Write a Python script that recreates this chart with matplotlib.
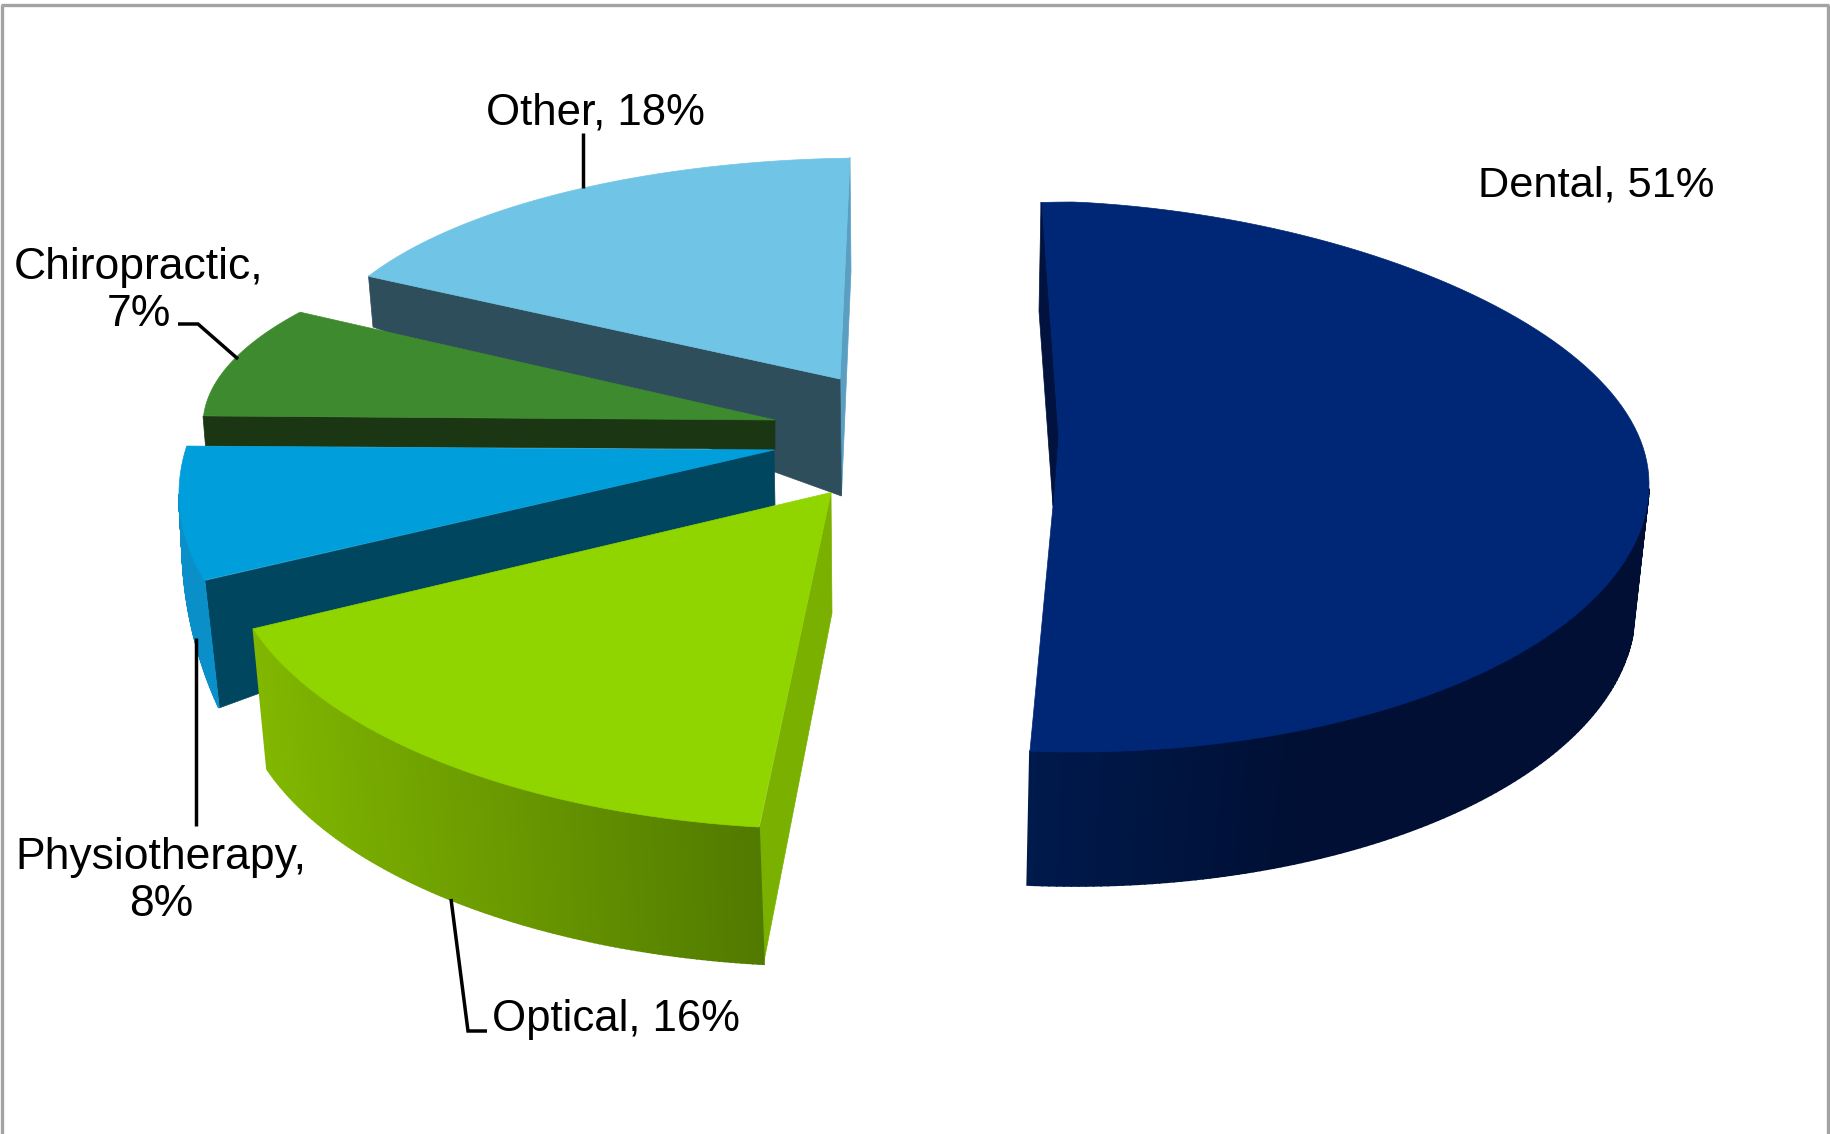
import numpy as np
import matplotlib
matplotlib.use("Agg")
import matplotlib.pyplot as plt
from matplotlib.patches import Polygon

plt.rcParams['font.family'] = ['Liberation Sans', 'DejaVu Sans']

# ---------- data ----------
categories = ["Dental", "Optical", "Physiotherapy", "Chiropractic", "Other"]
values = [51, 16, 8, 7, 18]

# ---------- layout / style (pixel space of the canvas) ----------
W, H = 1831, 1134
FRAME = "#a3a3a3"
# top ellipse, bottom ellipse: (cx, cy, rx, ry); t: ellipse parameter at the slice ends
GEOM = {
    "Dental": dict(apex=(1053, 506), top=(1075, 484, 574, 268), ry_back=282, back=14, t=(-3.4, 184.5),
                   bot=(1075, 610, 560, 276), wall_top=(91, 184.5), wall_bot=(95, 184.9),
                   face="#002776", grad=("#000f33", "#001a4d")),
    "Optical": dict(apex=(831, 492.5), top=(830, 544, 604, 285), back=0, t=(186.75, 252.7),
                    bot=(830, 681, 592, 285), wall_top=(186.75, 252.7), wall_bot=(186.4, 252),
                    face="#90d400", grad=("#517a00", "#82b800")),
    "Physiotherapy": dict(apex=(774, 450), top=(779, 494, 600, 300), back=0, t=(253.3, 279.2),
                          bot=(634, 540, 452, 424), wall_top=(253.3, 270), wall_bot=(246.7, 270),
                          face="#009edb", grad=("#0a8fc8", "#0a8fc8")),
    "Chiropractic": dict(apex=(775, 420), top=(823, 425, 620, 210), back=0, t=(272.5, 302.5),
                         bot=None, face="#3e8a2f"),
    "Other": dict(apex=(840, 379), top=(870, 371, 560, 213), back=0, t=(296.4, 357.95),
                  bot=None, face="#70c5e6"),
}
# flat side walls: (colour, zorder, corners); zorder 2 sits under the top face
SIDE = {
    "Other": [("#5a9fc2", 2, [(850, 157), (840, 379), (841.5, 496), (851, 271)]),
              ("#2e4e5c", 2, [(368.5, 276), (840, 379), (841.5, 496), (373, 327)])],
    "Chiropractic": [("#1a3612", 2, [(203, 416), (775, 420), (775, 449), (205.5, 446)])],
    "Physiotherapy": [("#00465f", 2, [(204, 581), (774, 450), (775, 505), (219, 708)])],
    "Optical": [("#7ab000", 2, [(831, 492.5), (832, 613), (763.5, 964), (759.5, 828)])],
    "Dental": [("#00123d", 2.5, [(1041, 202), (1039, 311), (1053, 506), (1058, 437)])],
}
LABELS = {
    "Dental": (1596, 196, "{c}, {v}%", 31.2),
    "Optical": (616, 1031, "{c}, {v}%", 31.5),
    "Physiotherapy": (161, 916, "{c},\n{v}%", 32),
    "Chiropractic": (138.5, 326, "{c},\n{v}%", 32),
    "Other": (595, 124, "{c}, {v}%", 31.5),
}
LEADERS = [
    [(583, 133), (583, 188)],
    [(178, 324), (198, 324), (238, 359)],
    [(196, 638), (196, 826)],
    [(451, 899), (468, 1031), (487, 1031)],
]
DRAW_ORDER = ["Other", "Chiropractic", "Physiotherapy", "Optical", "Dental"]


def arc(ell, t1, t2, back=0, ry_back=None, n=120):
    cx, cy, rx, ry = ell
    t = np.radians(np.linspace(t1, t2, n))
    x = cx + rx * np.sin(t)
    c = np.cos(t)
    y = cy - np.where(c > 0, ry_back if ry_back else ry, ry) * c
    if back:
        y = y + back * np.where((t > 0) & (t < np.pi / 2), np.sin(2 * t), 0)
    return x, y


def mix(c1, c2, f):
    a, b = np.array(matplotlib.colors.to_rgb(c1)), np.array(matplotlib.colors.to_rgb(c2))
    return tuple(a + (b - a) * f)


fig = plt.figure(figsize=(W / 100, H / 100), dpi=100)
ax = fig.add_axes([0, 0, 1, 1])
ax.set_xlim(0, W)
ax.set_ylim(H, 0)
ax.axis("off")

# value -> angle: clockwise from 12 o'clock
edges = np.concatenate([[0], np.cumsum(values)]) / sum(values) * 360.0
theta = {c: (edges[i], edges[i + 1]) for i, c in enumerate(categories)}

for name in DRAW_ORDER:
    g = GEOM[name]
    base = DRAW_ORDER.index(name) * 0.01
    for col, z, pts in SIDE[name]:
        ax.add_patch(Polygon(pts, closed=True, fc=col, ec=col, lw=0.5, zorder=z + base))
    if g["bot"] is not None:
        xt, yt = arc(g["top"], *g["wall_top"], back=g["back"], ry_back=g.get("ry_back"))
        xb, yb = arc(g["bot"], *g["wall_bot"])
        xmin, xmax = min(xt.min(), xb.min()), max(xt.max(), xb.max())
        for i in range(len(xt) - 1):
            f = 1 - ((xt[i] + xb[i]) / 2 - xmin) / (xmax - xmin)
            if name == "Dental":
                f = max(0, f * 2.2 - 1.2)
            c = mix(g["grad"][0], g["grad"][1], f)
            quad = [(xt[i], yt[i]), (xt[i + 1], yt[i + 1]), (xb[i + 1], yb[i + 1]), (xb[i], yb[i])]
            ax.add_patch(Polygon(quad, closed=True, fc=c, ec=c, lw=1.2, zorder=2 + base))
    # map the value angles onto the projected ellipse
    th1, th2 = theta[name]
    t1, t2 = g["t"]
    gain = (t2 - t1) / (th2 - th1)
    x, y = arc(g["top"], t1, t1 + gain * (th2 - th1), back=g["back"], ry_back=g.get("ry_back"))
    pts = np.vstack([[g["apex"]], np.column_stack([x, y])])
    ax.add_patch(Polygon(pts, closed=True, fc=g["face"], ec=g["face"], lw=0.5, zorder=2.001 + base))

for pts in LEADERS:
    xs, ys = zip(*pts)
    ax.plot(xs, ys, color="black", lw=2.5, solid_joinstyle="miter", solid_capstyle="butt", zorder=3)

for c, v in zip(categories, values):
    lx, ly, tpl, fs = LABELS[c]
    ax.text(lx, ly, tpl.format(c=c, v=v), fontsize=fs, ha="center", va="baseline",
            multialignment="center", linespacing=1.2, color="black", zorder=4)

ax.plot([2.5, 2.5], [H, 5], color=FRAME, lw=2.4, zorder=5, solid_capstyle="butt")
ax.plot([1, W - 2], [5, 5], color=FRAME, lw=2.4, zorder=5, solid_capstyle="butt")
ax.plot([1828, 1828], [5, H], color=FRAME, lw=2.4, zorder=5, solid_capstyle="butt")

fig.savefig("out.png", dpi=100, facecolor="white")
